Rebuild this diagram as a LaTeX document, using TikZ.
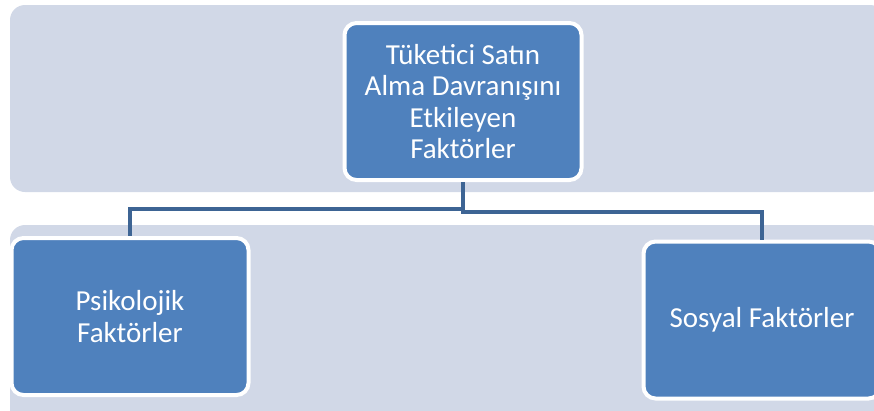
\documentclass[tikz,border=0pt]{standalone}
\usepackage{fontspec}
\setmainfont{Carlito}
\definecolor{bandgray}{RGB}{209,216,231}
\definecolor{boxblue}{RGB}{79,129,189}
\definecolor{linkblue}{RGB}{61,100,148}
\begin{document}
\begin{tikzpicture}[x=1pt,y=-1pt,
  band/.style={fill=bandgray,rounded corners=15pt},
  box/.style={draw=white,line width=4pt,fill=boxblue,rounded corners=12pt,
    minimum width=237pt,minimum height=157pt,inner sep=0pt,
    text=white,align=center,font=\fontsize{29}{31.5}\selectfont},
  link/.style={draw=linkblue,line width=4.5pt}]
\useasboundingbox (0,0) rectangle (874,410);
\clip (0,0) rectangle (874,410);
% background bands
\fill[band] (10,5) rectangle (885,192);
\fill[band] (10,225) rectangle (885,430);
% boxes
\node[box] (tuk) at (463,101.5) {Tüketici Satın\\Alma Davranışını\\Etkileyen\\Faktörler};
\node[box] (psi) at (130,316.5) {Psikolojik\\Faktörler};
\node[box] (sos) at (762,320) {Sosyal Faktörler};
% connectors
\draw[link] (tuk.south) -- ++(0,27) -| (psi.north);
\draw[link] (tuk.south) -- ++(0,30) -| (sos.north);
\end{tikzpicture}
\end{document}
